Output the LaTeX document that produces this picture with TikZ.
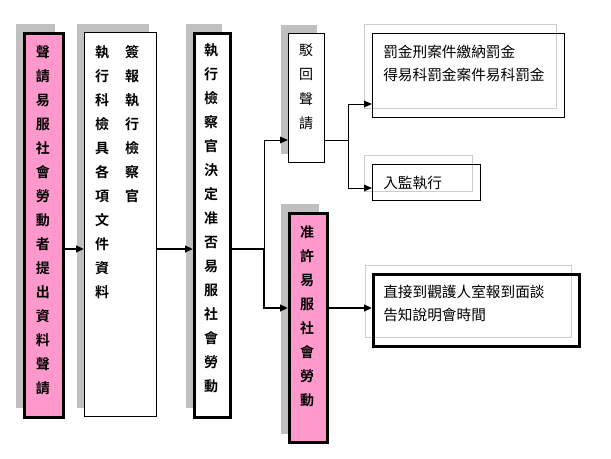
\documentclass[tikz,border=0pt]{standalone}
\usepackage{fontspec}
\newfontfamily\cjk{Noto Sans CJK TC}
\newfontfamily\cjkbold{Noto Sans CJK TC Bold}
\usetikzlibrary{arrows.meta,shadows}
\definecolor{pinkfill}{HTML}{FF99CC}
\definecolor{shade}{HTML}{C0C0C0}
\definecolor{framegray}{HTML}{CCCCCC}
\begin{document}
\begin{tikzpicture}[x=0.75pt,y=-0.75pt,
  box/.style={draw, anchor=north west, inner sep=0pt, line width=0.75pt},
  thickbox/.style={box, line width=2pt},
  shadowed/.style={drop shadow={shadow xshift=-6pt,shadow yshift=6.75pt,fill=shade,opacity=1}},
  ghost/.style={drop shadow={shadow xshift=-6pt,shadow yshift=6.75pt,fill=none,draw=framegray,line width=1.2pt,opacity=1}},
  vtext/.style={anchor=north, align=center, inner sep=0pt, font=\cjkbold\fontsize{10.5}{18}\selectfont},
  htext/.style={anchor=north west, align=left, inner sep=0pt, font=\cjk\fontsize{11}{17.25}\selectfont},
  link/.style={-{Triangle[length=6pt,width=5pt]}, line width=0.75pt},
  mainlink/.style={link, line width=2pt}]
  \useasboundingbox (0,0) rectangle (611,458);

  % 左側三個直式方框
  \node[thickbox, shadowed, fill=pinkfill, minimum width=29.25pt, minimum height=288pt] (apply) at (23,32) {};
  \node[box, shadowed, fill=white, minimum width=54pt, minimum height=288pt] (docs) at (84,32) {};
  \node[thickbox, shadowed, fill=white, minimum width=27pt, minimum height=288pt] (decide) at (193,32) {};

  \node[vtext] (applytext) at (43,45) {聲\\請\\易\\服\\社\\會\\勞\\動\\者\\提\\出\\資\\料\\聲\\請};
  \node[vtext] (docsleft) at (102,45) {執\\行\\科\\檢\\具\\各\\項\\文\\件\\資\\料};
  \node[vtext] (docsright) at (132,45) {簽\\報\\執\\行\\檢\\察\\官};
  \node[vtext] (decidetext) at (211,43) {執\\行\\檢\\察\\官\\決\\定\\准\\否\\易\\服\\社\\會\\勞\\動};

  % 准否兩個分支
  \node[box, shadowed, fill=white, minimum width=27pt, minimum height=96.75pt] (reject) at (288,33) {};
  \node[vtext, font=\cjk\fontsize{10.5}{18.4}\selectfont] (rejecttext) at (306,43) {駁\\回\\聲\\請};
  \node[thickbox, shadowed, fill=pinkfill, minimum width=28.5pt, minimum height=172pt] (grant) at (288,212) {};
  \node[vtext] (granttext) at (307,225) {准\\許\\易\\服\\社\\會\\勞\\動};

  % 右側橫式方框
  \node[box, ghost, minimum width=144pt, minimum height=63pt] (fine) at (372,33) {};
  \node[htext] (finetext) at (383,45) {罰金刑案件繳納罰金\\得易科罰金案件易科罰金};
  \node[box, ghost, minimum width=81pt, minimum height=27pt] (jail) at (372,164) {};
  \node[htext, anchor=west] (jailtext) at (383,183) {入監執行};
  \node[thickbox, ghost, minimum width=154.5pt, minimum height=54pt] (report) at (372,273) {};
  \node[htext] (reporttext) at (383,285) {直接到觀護人室報到面談\\告知說明會時間};

  % 連接線
  \coordinate (row) at (0,249);
  \coordinate (fork) at (264,249);
  \coordinate (fork2) at (348,140);
  \draw[mainlink] (apply.east |- row) -- (docs.west |- row);
  \draw[mainlink] (docs.east |- row) -- (decide.west |- row);
  \draw[line width=2pt] (decide.east |- row) -- (fork);
  \draw[link] (fork) |- (reject.west |- fork2);
  \draw[mainlink] (fork) |- (grant.west |- 0,308);
  \draw[line width=0.75pt] (reject.east |- fork2) -- (fork2);
  \draw[link] (fork2) |- (fine.west |- 0,104);
  \draw[link] (fork2) |- (jail.west |- 0,188);
  \draw[mainlink] (grant.east |- 0,308) -- (report.west |- 0,308);
\end{tikzpicture}
\end{document}
